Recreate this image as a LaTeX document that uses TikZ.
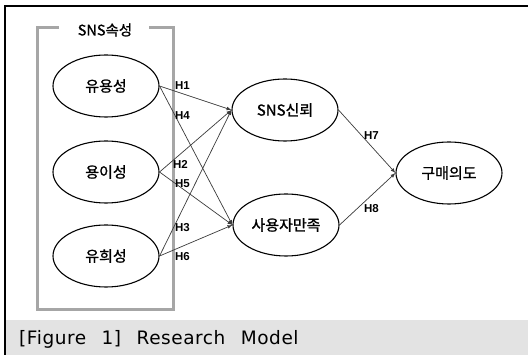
\documentclass[tikz,border=0pt]{standalone}
\usepackage{fontspec}
\usetikzlibrary{shapes.geometric}
\setmainfont{Noto Sans CJK KR}
\newfontfamily\korfont[FakeBold=1.2]{Noto Sans CJK KR}
\newfontfamily\capfont[WordSpace=2.4, LetterSpace=3]{DejaVu Sans}
\newfontfamily\hfont{Liberation Sans}
\definecolor{boxgray}{HTML}{A6A6A6}
\definecolor{capgray}{HTML}{E3E3E3}
\definecolor{linegray}{HTML}{3A3A3A}
\tikzset{
  construct/.style={ellipse, draw, line width=1.1pt, minimum width=106pt, minimum height=62pt, inner sep=0pt, font=\korfont\fontsize{15}{17}\selectfont},
  path/.style={draw=linegray, line width=0.7pt},
  hyp/.style={inner sep=0pt, font=\hfont\bfseries\fontsize{11.5}{13}\selectfont}
}
\begin{document}
\begin{tikzpicture}[x=1pt, y=-1pt, >=latex]

\useasboundingbox (0,0) rectangle (528,355);
\fill[capgray] (5,320) rectangle (528,355);
\draw[line width=1.6pt] (528,6) -- (5,6) -- (5,355);
\node[anchor=west, inner sep=0pt] (caption) at (19,339) {\capfont\fontsize{18.5}{21}\selectfont [Figure 1] Research Model};

% SNS attributes box
\draw[boxgray, line width=3pt] (59,28) -- (37,28) -- (37,310) -- (173,310) -- (173,28) -- (149,28);
\node[font=\korfont\fontsize{14.5}{16}\selectfont] (attr) at (105,30) {SNS속성};

\foreach \n/\t/\y in {use/유용성/86, ease/용이성/172, fun/유희성/256} {\node[construct] (\n) at (106,\y) {\t};}
\node[construct] (trust) at (285,110) {SNS신뢰};
\node[construct] (sat) at (286,225) {사용자만족};
\node[construct] (buy) at (449,173) {구매의도};

\foreach \a in {use,ease,fun} {\draw[path,->] (\a.east) -- (trust.west);}
\foreach \a in {use,ease,fun} {\draw[path,->] (\a.east) -- (sat.west);}
\draw[path,->] (trust.east) -- (buy.west);
\draw[path,->] (sat.east) -- (buy.west);

\foreach \h/\x/\y in {1/182.5/85.5, 4/182.5/115.5, 2/180.5/164, 5/182.5/183.5, 3/182.5/227.5, 6/182.5/257, 7/371.5/136, 8/371.5/209} {\node[hyp] (h\h) at (\x,\y) {H\h};}

\end{tikzpicture}
\end{document}
